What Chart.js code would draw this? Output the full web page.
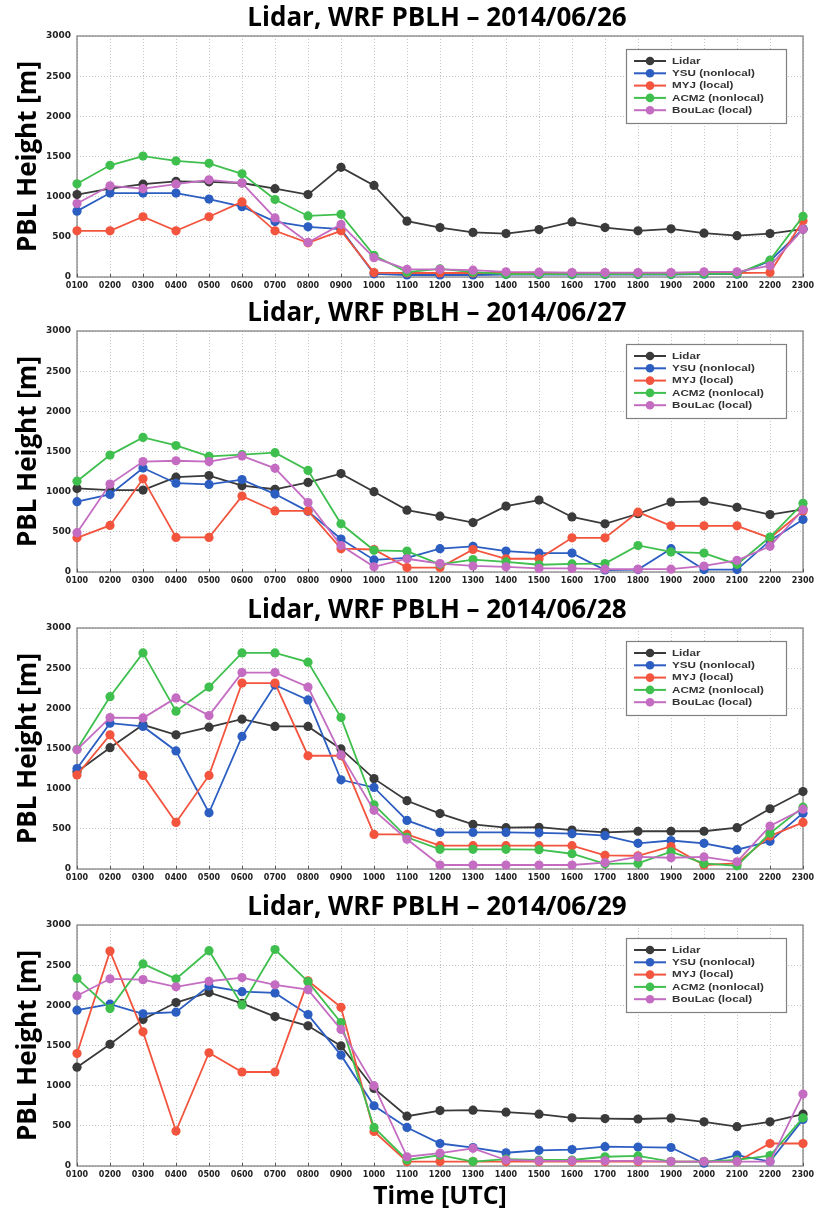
<!DOCTYPE html>
<html><head><meta charset="utf-8">
<script src="https://cdn.jsdelivr.net/npm/chart.js@4.4.1/dist/chart.umd.min.js"></script>
<style>
html,body{margin:0;padding:0;background:#fff;width:822px;height:1215px;overflow:hidden}
.p{position:absolute;left:0}
canvas{display:block}
</style></head><body>
<div class="p" style="top:0px"><canvas id="c0" width="822" height="297"></canvas></div>
<div class="p" style="top:295px"><canvas id="c1" width="822" height="297"></canvas></div>
<div class="p" style="top:592px"><canvas id="c2" width="822" height="297"></canvas></div>
<div class="p" style="top:889px"><canvas id="c3" width="822" height="326"></canvas></div>
<script>
// ---- data ----
const hours = ['0100','0200','0300','0400','0500','0600','0700','0800','0900','1000','1100','1200','1300','1400','1500','1600','1700','1800','1900','2000','2100','2200','2300'];
const dates = ['2014/06/26','2014/06/27','2014/06/28','2014/06/29'];
const seriesNames = ['Lidar','YSU (nonlocal)','MYJ (local)','ACM2 (nonlocal)','BouLac (local)'];
const yTickMax = 3000, yTickStep = 500;

// 2014/06/26
const lidar26  = [1026,1100,1155,1190,1185,1170,1100,1026,1365,1140,695,615,555,540,590,685,615,575,600,545,515,540,595];
const ysu26    = [820,1045,1045,1045,970,875,690,625,595,40,25,25,25,30,30,30,30,30,30,35,35,200,600];
const myj26    = [575,575,750,575,750,935,575,425,575,55,50,50,50,50,50,50,50,50,50,50,50,55,700];
const acm226   = [1160,1390,1505,1445,1415,1285,965,760,780,270,60,100,60,35,35,35,35,35,35,40,40,210,755];
const boulac26 = [915,1135,1100,1155,1210,1170,735,430,655,240,95,95,85,65,60,55,55,55,55,65,65,140,595];
// 2014/06/27
const lidar27  = [1040,1020,1020,1180,1200,1075,1030,1115,1225,1000,770,695,615,820,895,685,600,725,870,880,805,715,780];
const ysu27    = [875,965,1295,1105,1090,1150,970,755,410,150,175,290,320,260,235,235,25,30,290,30,30,390,655];
const myj27    = [425,580,1160,430,430,945,760,760,290,280,55,55,280,165,165,425,425,745,575,575,575,425,760];
const acm227   = [1130,1455,1675,1575,1440,1460,1485,1265,600,270,260,95,155,125,90,100,105,330,250,235,95,435,855];
const boulac27 = [490,1095,1375,1385,1375,1445,1290,865,330,65,165,105,75,65,45,45,35,35,35,75,145,320,775];
// 2014/06/28
const lidar28  = [1210,1510,1795,1670,1765,1865,1775,1775,1495,1125,850,690,555,515,520,485,455,470,470,470,515,750,965];
const ysu28    = [1250,1815,1775,1470,700,1650,2290,2105,1110,1015,605,455,455,455,450,440,415,320,355,320,240,345,695];
const myj28    = [1170,1670,1165,580,1165,2315,2315,1410,1410,430,430,290,290,290,290,290,170,165,280,50,70,410,580];
const acm228   = [1490,2145,2690,1965,2265,2690,2690,2575,1885,800,395,245,245,245,240,190,65,70,215,70,40,445,770];
const boulac28 = [1485,1885,1880,2130,1910,2445,2445,2265,1420,730,370,50,50,50,50,50,80,150,140,150,90,535,745];
// 2014/06/29
const lidar29  = [1230,1515,1825,2035,2160,2025,1860,1745,1495,965,620,690,695,670,645,600,590,585,595,550,490,550,645];
const ysu29    = [1940,2015,1895,1915,2240,2170,2155,1885,1380,750,480,280,230,165,195,205,240,235,230,35,135,55,580];
const myj29    = [1400,2675,1670,435,1410,1170,1170,2305,1975,430,55,55,55,55,55,55,55,55,55,55,55,280,280];
const acm229   = [2335,1960,2515,2330,2680,2005,2695,2295,1785,480,75,135,55,85,75,75,115,125,55,55,75,130,600];
const boulac29 = [2120,2330,2320,2230,2300,2345,2255,2195,1700,1000,115,160,220,75,65,65,65,65,55,55,55,55,895];

const panels = [
  [lidar26, ysu26, myj26, acm226, boulac26],
  [lidar27, ysu27, myj27, acm227, boulac27],
  [lidar28, ysu28, myj28, acm228, boulac28],
  [lidar29, ysu29, myj29, acm229, boulac29]
];
const colors = ['#3a3a3a','#2c5ec2','#f2543e','#3fbf4e','#c46cc2'];

// ---- plugins ----
const frame = {
  id:'frame',
  beforeDatasetsDraw(chart){
    const {ctx, chartArea:a, scales:{x}} = chart;
    ctx.save();
    ctx.strokeStyle='#7a7a7a'; ctx.lineWidth=1.2;
    ctx.strokeRect(a.left, a.top, a.right-a.left, a.bottom-a.top);
    ctx.lineWidth=1; ctx.strokeStyle='#555';
    x.ticks.forEach((t,i)=>{const px=Math.round(x.getPixelForTick(i))+0.5; ctx.beginPath(); ctx.moveTo(px,a.bottom); ctx.lineTo(px,a.bottom-3); ctx.stroke();});
    ctx.restore();
  }
};
const panelTitle = {
  id:'panelTitle',
  afterDraw(chart, args, opts){
    const {ctx, chartArea:a} = chart;
    ctx.save();
    ctx.font='bold 26px "Open Sans", "Noto Sans CJK KR", sans-serif';
    ctx.fillStyle='#000'; ctx.textAlign='center'; ctx.textBaseline='middle';
    ctx.fillText(opts.text, (a.left+a.right)/2 - 3, a.top - 17);
    ctx.restore();
  }
};
const legendBox = {
  id:'legendBox',
  afterDatasetsDraw(chart){
    const {ctx, chartArea:a} = chart;
    const x0 = a.left + 549, y0 = a.top + 13, w = 160, h = 74;
    ctx.save();
    ctx.fillStyle='#fff'; ctx.fillRect(x0,y0,w,h);
    ctx.strokeStyle='#808080'; ctx.lineWidth=1.2; ctx.strokeRect(x0+0.5,y0+0.5,w,h);
    chart.data.datasets.forEach((ds,i)=>{
      const y = y0 + 12 + i*12.3;
      ctx.strokeStyle = ds.borderColor; ctx.lineWidth = 2;
      ctx.beginPath(); ctx.moveTo(x0+8,y); ctx.lineTo(x0+40,y); ctx.stroke();
      ctx.fillStyle = ds.borderColor;
      ctx.beginPath(); ctx.arc(x0+24,y,4.3,0,Math.PI*2); ctx.fill();
      ctx.save();
      ctx.translate(x0+46,y+0.5); ctx.scale(1.37,1);
      ctx.font='bold 8.5px "Liberation Sans", Arial, sans-serif';
      ctx.fillStyle='#333'; ctx.textBaseline='middle'; ctx.textAlign='left';
      ctx.fillText(ds.label,0,0);
      ctx.restore();
    });
    ctx.restore();
  }
};

function makeChart(idx){
  const last = idx === 3;
  const canvasH = last ? 326 : 297;
  const ctx = document.getElementById('c'+idx).getContext('2d');
  const datasets = panels[idx].map((vals,i)=>({
    label: seriesNames[i],
    data: vals,
    borderColor: colors[i],
    backgroundColor: colors[i],
    pointBackgroundColor: colors[i],
    pointBorderColor: colors[i],
    pointBorderWidth: 0,
    pointRadius: 4.6,
    borderWidth: 1.8,
    tension: 0,
    clip: false,
    order: 5 - i
  }));
  return new Chart(ctx, {
    type:'line',
    data:{labels:hours, datasets},
    options:{
      responsive:false, animation:false, devicePixelRatio:1,
      layout:{padding:{left:0,right:19,top:36,bottom:0}},
      plugins:{
        legend:{display:false}, tooltip:{enabled:false}, title:{display:false},
        panelTitle:{text:'Lidar, WRF PBLH \u2013 '+dates[idx]}
      },
      scales:{
        x:{
          type:'category', offset:false,
          grid:{color:'#c4c4c4', lineWidth:1, drawTicks:false},
          border:{display:false, dash:[1,2]},
          ticks:{autoSkip:false, maxRotation:0, minRotation:0, padding:4, color:'#222',
            font:{family:'"DejaVu Sans", sans-serif', size:8, weight:'bold'}},
          title:{display:last, text:'Time [UTC]', color:'#000',
            font:{family:'"Open Sans", "Noto Sans CJK KR", sans-serif', size:25, weight:'bold', lineHeight:1.2},
            padding:{top:0,bottom:3.6}},
          afterFit(s){ s.height = canvasH - 277; }
        },
        y:{
          min:0, max:yTickMax,
          grid:{color:'#c4c4c4', lineWidth:1, drawTicks:false},
          border:{display:false, dash:[1,2]},
          ticks:{stepSize:yTickStep, padding:6, color:'#222',
            callback:(v)=>String(v),
            font:{family:'"DejaVu Sans", sans-serif', size:9, weight:'bold'}},
          title:{display:true, text:'PBL Height [m]', color:'#000',
            font:{family:'"Open Sans", "Noto Sans CJK KR", sans-serif', size:26, weight:'bold', lineHeight:1.2},
            padding:{top:13,bottom:0}},
          afterFit(s){ s.width = 77; }
        }
      }
    },
    plugins:[frame, legendBox, panelTitle]
  });
}
for (let i=0;i<4;i++) makeChart(i);
</script>
</body></html>
